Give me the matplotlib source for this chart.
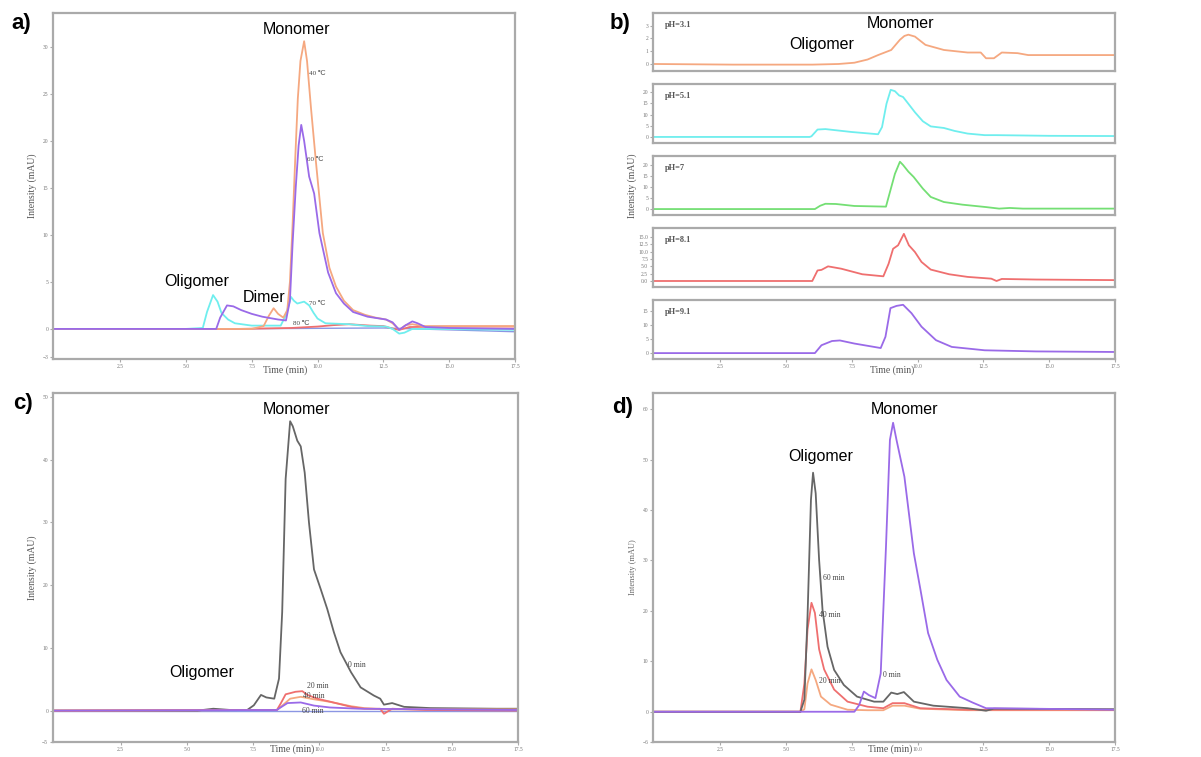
import matplotlib
matplotlib.use("Agg")
import matplotlib.pyplot as plt

W, H = 1201, 757

# ---------------- panel a: temperature ----------------
a_40_t = [0, 5.0, 7.5, 7.95, 8.15, 8.33, 8.5, 8.7, 8.85, 8.95, 9.05, 9.15, 9.25, 9.35, 9.49, 9.6, 9.75, 9.93,
          10.2, 10.45, 10.7, 11.0, 11.35, 11.8, 12.2, 12.6, 12.85, 13.1, 13.35, 13.6, 14.0, 15.0, 17.5]
a_40_y = [0, 0, 0, 0.3, 1.4, 2.2, 1.6, 1.2, 2.0, 5.0, 11.0, 18.0, 24.5, 28.5, 30.6, 28.5, 23.5, 18.0,
          10.2, 6.5, 4.5, 3.0, 2.0, 1.5, 1.2, 1.0, 0.6, -0.1, 0.4, 0.5, 0.3, 0.3, 0.3]

a_60_t = [0, 5.0, 6.15, 6.3, 6.56, 6.8, 7.1, 7.5, 7.9, 8.5, 8.8, 8.95, 9.05, 9.17, 9.28, 9.38, 9.49, 9.68,
          9.87, 10.07, 10.4, 10.7, 11.0, 11.35, 11.9, 12.6, 12.85, 13.1, 13.35, 13.6, 13.8, 14.1, 15.0, 17.5]
a_60_y = [0, 0, 0, 1.2, 2.5, 2.4, 2.0, 1.6, 1.3, 1.0, 0.9, 3.0, 9.0, 15.0, 19.5, 21.7, 20.0, 16.2,
          14.4, 10.2, 6.0, 3.8, 2.7, 1.8, 1.3, 1.0, 0.7, -0.1, 0.4, 0.8, 0.6, 0.2, 0.1, 0.0]

a_70_t = [0, 5.0, 5.64, 5.8, 6.03, 6.2, 6.35, 6.6, 6.86, 7.5, 8.6, 8.8, 8.99, 9.1, 9.23, 9.49, 9.68,
          9.85, 10.0, 10.3, 11.2, 11.9, 12.6, 12.85, 13.1, 13.3, 13.6, 14.5, 17.5]
a_70_y = [0, 0, 0.1, 1.8, 3.6, 2.9, 1.7, 1.0, 0.6, 0.35, 0.35, 1.5, 3.4, 3.0, 2.7, 2.9, 2.5,
          1.7, 1.1, 0.6, 0.5, 0.3, 0.25, 0.0, -0.5, -0.4, 0.0, 0.0, -0.1]

a_80_t = [0, 7.0, 9.0, 10.0, 10.6, 11.2, 12.0, 12.5, 12.9, 13.1, 13.5, 15.0, 17.5]
a_80_y = [0, 0.0, 0.1, 0.25, 0.4, 0.5, 0.35, 0.3, 0.0, -0.1, 0.2, 0.25, 0.25]

a_base_t = [0, 6.0, 12.5, 15.0, 17.5]
a_base_y = [0, 0, 0.1, -0.1, -0.3]

# ---------------- panel b: pH ----------------
ph_labels = ["pH=3.1", "pH=5.1", "pH=7", "pH=8.1", "pH=9.1"]

b_31_t = [0, 3.0, 6.0, 7.0, 7.6, 8.1, 8.5, 9.0, 9.33, 9.5, 9.65, 9.9, 10.3, 11.0, 11.9, 12.4, 12.6, 12.9,
          13.2, 13.8, 14.2, 15.5, 17.5]
b_31_y = [0, -0.05, -0.05, 0.0, 0.1, 0.35, 0.7, 1.1, 1.9, 2.2, 2.3, 2.15, 1.5, 1.1, 0.9, 0.9, 0.45, 0.45,
          0.9, 0.85, 0.7, 0.7, 0.7]

b_51_t = [0, 5.9, 5.97, 6.2, 6.5, 7.5, 8.5, 8.65, 8.82, 8.98, 9.14, 9.3, 9.45, 9.65, 9.9, 10.2, 10.5,
          11.0, 11.4, 11.9, 12.55, 13.0, 15.0, 17.5]
b_51_y = [0, 0, 0.3, 3.3, 3.5, 2.2, 1.2, 4.4, 14.8, 21.0, 20.4, 18.5, 17.8, 14.8, 11.0, 7.0, 4.7,
          4.0, 2.7, 1.5, 0.8, 0.8, 0.5, 0.4]

b_7_t = [0, 6.1, 6.3, 6.5, 6.9, 7.6, 8.8, 8.9, 9.14, 9.33, 9.45, 9.65, 9.85, 10.2, 10.5, 11.0, 11.7,
         12.6, 13.1, 13.5, 14.0, 17.5]
b_7_y = [0, 0, 1.5, 2.4, 2.3, 1.4, 1.1, 5.5, 16.0, 21.5, 20.0, 17.0, 14.6, 9.3, 5.5, 3.2, 2.0,
         0.9, 0.2, 0.5, 0.2, 0.2]

b_81_t = [0, 6.0, 6.2, 6.35, 6.6, 7.1, 7.9, 8.7, 8.9, 9.07, 9.26, 9.48, 9.67, 9.9, 10.15, 10.5, 11.2,
          11.9, 12.8, 13.0, 13.2, 14.5, 17.5]
b_81_y = [0, 0, 3.6, 3.8, 5.0, 4.2, 2.3, 1.6, 5.9, 11.0, 12.2, 16.1, 12.2, 9.9, 6.5, 3.9, 2.3,
          1.4, 0.8, 0.0, 0.7, 0.5, 0.3]

b_91_t = [0, 6.1, 6.35, 6.75, 7.05, 7.6, 8.6, 8.78, 8.97, 9.2, 9.45, 9.77, 10.15, 10.7, 11.3, 12.55,
          14.5, 17.5]
b_91_y = [0, 0, 2.8, 4.3, 4.5, 3.4, 1.8, 5.8, 16.0, 16.8, 17.2, 14.2, 9.4, 4.6, 2.2, 1.0,
          0.6, 0.4]

b_ylims = [(-0.55, 4.0), (-2.7, 23.6), (-2.7, 24.1), (-2.05, 18.1), (-2.1, 18.9)]
b_yticks = [[0, 1, 2, 3], [0, 5, 10, 15, 20], [0, 5, 10, 15, 20],
            [0, 2.5, 5, 7.5, 10, 12.5, 15], [0, 5, 10, 15]]

# ---------------- panel c: time, monomer ----------------
c_0_t = [0, 5.4, 6.0, 6.65, 7.28, 7.53, 7.8, 8.0, 8.3, 8.48, 8.6, 8.73, 8.9, 9.0, 9.17, 9.3, 9.45, 9.61,
         9.8, 10.05, 10.3, 10.55, 10.8, 11.2, 11.56, 12.06, 12.3, 12.44, 12.75, 13.2, 14.2, 16.7, 17.5]
c_0_y = [0, 0, 0.3, 0.1, 0.1, 0.85, 2.5, 2.1, 1.9, 5.1, 15.7, 36.9, 46.1, 45.3, 43.0, 42.1, 37.9, 30.0,
         22.5, 19.4, 16.2, 12.5, 9.3, 6.1, 3.7, 2.4, 1.9, 0.95, 1.2, 0.6, 0.4, 0.3, 0.3]

c_20_t = [0, 8.4, 8.54, 8.73, 8.92, 9.1, 9.36, 9.55, 9.93, 10.43, 11.2, 11.7, 12.3, 12.44, 12.75, 14.0, 17.5]
c_20_y = [0, 0.1, 1.1, 2.6, 2.8, 3.0, 3.1, 2.5, 1.9, 1.4, 0.6, 0.3, 0.3, -0.5, 0.3, 0.1, 0.0]

c_40_t = [0, 8.4, 8.55, 8.9, 9.3, 9.8, 10.4, 11.2, 11.7, 12.4, 17.5]
c_40_y = [0, 0.1, 0.6, 1.9, 2.2, 1.8, 1.4, 0.7, 0.4, 0.2, 0.2]

c_60_t = [0, 8.4, 8.5, 8.8, 9.3, 9.8, 10.4, 11.5, 17.5]
c_60_y = [0, 0.1, 0.4, 1.2, 1.3, 0.8, 0.5, 0.3, 0.1]

# ---------------- panel d: time, oligomer ----------------
d_0_t = [0, 7.6, 7.78, 7.96, 8.15, 8.4, 8.6, 8.8, 8.95, 9.07, 9.2, 9.36, 9.5, 9.67, 9.86, 10.11, 10.4,
         10.75, 11.1, 11.6, 12.1, 12.6, 12.9, 17.5]
d_0_y = [0, 0, 1.3, 4.0, 3.3, 2.7, 7.6, 32.7, 53.9, 57.3, 53.9, 50.0, 46.6, 39.4, 31.4, 24.2, 15.6,
         10.3, 6.3, 3.0, 1.8, 0.7, 0.7, 0.4]

d_60_t = [0, 5.55, 5.7, 5.82, 5.95, 6.03, 6.13, 6.26, 6.39, 6.58, 6.83, 7.2, 7.7, 8.35, 8.7, 9.0, 9.23,
          9.48, 9.86, 10.6, 11.9, 12.6, 12.9, 17.5]
d_60_y = [0, 0, 2.4, 18.9, 42.0, 47.4, 43.3, 30.1, 20.2, 12.9, 8.3, 5.3, 3.0, 2.0, 2.0, 3.8, 3.5,
          3.9, 2.0, 1.2, 0.7, 0.2, 0.6, 0.5]

d_40_t = [0, 5.55, 5.7, 5.82, 5.97, 6.1, 6.26, 6.45, 6.83, 7.34, 8.1, 8.7, 9.05, 9.5, 10.1, 11.9, 17.5]
d_40_y = [0, 0, 5.6, 16.3, 21.6, 19.6, 12.4, 8.4, 4.4, 2.0, 1.0, 0.7, 1.7, 1.7, 0.7, 0.4, 0.4]

d_20_t = [0, 5.55, 5.7, 5.82, 5.97, 6.13, 6.33, 6.7, 7.34, 8.1, 8.7, 9.05, 9.5, 10.1, 11.9, 17.5]
d_20_y = [0, 0, 0.5, 5.6, 8.4, 6.3, 3.0, 1.4, 0.4, 0.3, 0.3, 1.2, 1.2, 0.6, 0.3, 0.3]

ORANGE = "#f5a880"
PURPLE = "#9a6ae8"
CYAN = "#6feeee"
RED = "#ef6f6f"
GREEN = "#74df74"
GREY = "#666666"
BLUE = "#5a6ad8"
SPINE = "#aaaaaa"

SERIF = ["Liberation Serif", "DejaVu Serif"]
SANS = ["Liberation Sans", "DejaVu Sans"]
XTICKS = [2.5, 5.0, 7.5, 10.0, 12.5, 15.0, 17.5]


def rect(left, top, right, bottom):
    return [left / W, 1 - bottom / H, (right - left) / W, (bottom - top) / H]


def style(ax, xticks=True):
    for sp in ax.spines.values():
        sp.set_color(SPINE)
        sp.set_linewidth(1.6)
    ax.set_xlim(-0.05, 17.5)
    ax.tick_params(length=2.5, width=0.8, color=SPINE, labelsize=4, labelcolor="#777777", pad=1)
    if xticks:
        ax.set_xticks(XTICKS)
        ax.set_xticklabels([f"{v:.1f}" for v in XTICKS], fontfamily=SERIF)
    else:
        ax.set_xticks([])
    for lbl in ax.get_yticklabels():
        lbl.set_fontfamily(SERIF)


def fig_text(x, y, s, **kw):
    fig.text(x / W, 1 - y / H, s, ha="center", va="center", **kw)


fig = plt.figure(figsize=(W / 100, H / 100), dpi=100)
lw = 1.3
axlab = dict(family=SERIF, fontsize=7, color="#555555")

# panel a
ax = fig.add_axes(rect(53, 13, 515, 359))
ax.plot(a_base_t, a_base_y, color=BLUE, lw=1.0, alpha=0.7)
ax.plot(a_80_t, a_80_y, color=RED, lw=lw)
ax.plot(a_70_t, a_70_y, color=CYAN, lw=lw)
ax.plot(a_40_t, a_40_y, color=ORANGE, lw=lw)
ax.plot(a_60_t, a_60_y, color=PURPLE, lw=lw)
ax.set_ylim(-3.2, 33.6)
ax.set_yticks([-3, 0, 5, 10, 15, 20, 25, 30])
style(ax)
ax.set_ylabel("Intensity (mAU)", fontfamily=SERIF, fontsize=7, color="#555555", labelpad=4)
fig_text(285, 370, "Time (min)", **axlab)
for s, x, y in [("40 ℃", 9.68, 27.2), ("60 ℃", 9.6, 18.0), ("70 ℃", 9.68, 2.7), ("80 ℃", 9.08, 0.6)]:
    ax.text(x, y, s, fontsize=5, family=SERIF, color="#444444", va="center")

# panel b
b_series = [(b_31_t, b_31_y, ORANGE), (b_51_t, b_51_y, CYAN), (b_7_t, b_7_y, GREEN),
            (b_81_t, b_81_y, RED), (b_91_t, b_91_y, PURPLE)]
b_rows = [(13, 71), (84, 143), (156, 215), (228, 287), (300, 359)]
for i, ((t, y, c), (top, bot)) in enumerate(zip(b_series, b_rows)):
    bx = fig.add_axes(rect(653, top, 1115, bot))
    bx.plot(t, y, color=c, lw=lw)
    bx.set_ylim(*b_ylims[i])
    bx.set_yticks(b_yticks[i])
    if i == 3:
        bx.set_yticklabels([f"{v:.1f}" for v in b_yticks[i]])
    style(bx, xticks=(i == 4))
    bx.text(0.025, 0.8, ph_labels[i], transform=bx.transAxes, fontsize=6, family=SERIF,
            color="#555555", fontweight="bold", va="center")
    if i == 2:
        bx.set_ylabel("Intensity (mAU)", fontfamily=SERIF, fontsize=7, color="#555555", labelpad=4)
fig_text(892, 370, "Time (min)", **axlab)

# panel c
cx = fig.add_axes(rect(53, 393, 518, 742))
cx.plot(a_base_t, [0, 0, 0, 0, 0], color=BLUE, lw=1.0, alpha=0.7)
cx.plot(c_0_t, c_0_y, color=GREY, lw=lw)
cx.plot(c_40_t, c_40_y, color=ORANGE, lw=lw)
cx.plot(c_20_t, c_20_y, color=RED, lw=lw)
cx.plot(c_60_t, c_60_y, color=PURPLE, lw=lw)
cx.set_ylim(-5, 50.6)
cx.set_yticks([-5, 0, 10, 20, 30, 40, 50])
style(cx)
cx.set_ylabel("Intensity (mAU)", fontfamily=SERIF, fontsize=7, color="#555555", labelpad=4)
fig_text(292, 749, "Time (min)", **axlab)
for s, x, y in [("0 min", 11.1, 7.3), ("20 min", 9.55, 4.0), ("40 min", 9.4, 2.4), ("60 min", 9.35, -0.1)]:
    cx.text(x, y, s, fontsize=5.5, family=SERIF, color="#444444", va="center")

# panel d
dx = fig.add_axes(rect(653, 393, 1115, 742))
dx.plot(d_20_t, d_20_y, color=ORANGE, lw=lw)
dx.plot(d_40_t, d_40_y, color=RED, lw=lw)
dx.plot(d_60_t, d_60_y, color=GREY, lw=lw)
dx.plot(d_0_t, d_0_y, color=PURPLE, lw=lw)
dx.set_ylim(-6, 63.2)
dx.set_yticks([-6, 0, 10, 20, 30, 40, 50, 60])
style(dx)
dx.set_ylabel("Intensity (mAU)", fontfamily=SERIF, fontsize=6, color="#666666", labelpad=4)
fig_text(890, 749, "Time (min)", **axlab)
for s, x, y in [("60 min", 6.39, 26.6), ("40 min", 6.26, 19.1), ("20 min", 6.26, 6.1), ("0 min", 8.7, 7.2)]:
    dx.text(x, y, s, fontsize=5.5, family=SERIF, color="#444444", va="center")

# big annotations
big = dict(fontsize=11.5, family=SANS, color="black")
fig_text(297, 30, "Monomer", **big)
fig_text(197, 282, "Oligomer", **big)
fig_text(264, 297, "Dimer", **big)
fig_text(900, 24, "Monomer", **big)
fig_text(822, 44, "Oligomer", **big)
fig_text(297, 410, "Monomer", **big)
fig_text(202, 673, "Oligomer", **big)
fig_text(904, 409, "Monomer", **big)
fig_text(821, 457, "Oligomer", **big)

panel = dict(fontsize=16, family=SANS, fontweight="bold", color="black")
fig_text(21, 23, "a)", **panel)
fig_text(620, 23, "b)", **panel)
fig_text(23, 403, "c)", **panel)
fig_text(623, 408, "d)", **panel)

fig.savefig("out.png", dpi=100)
